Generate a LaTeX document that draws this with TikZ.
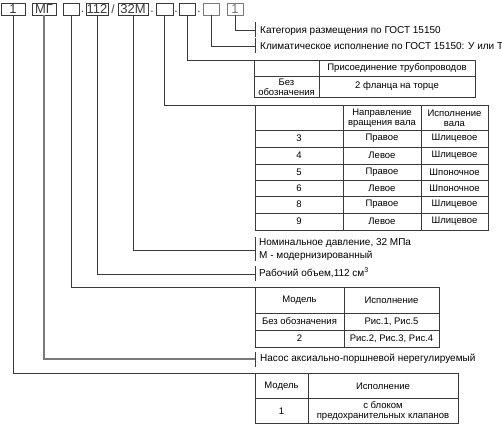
\documentclass[tikz,border=0pt]{standalone}
\usepackage{fontspec}
\setmainfont{Liberation Sans}
\definecolor{lc}{HTML}{3A3A3A}
\definecolor{lg}{HTML}{7A7A7A}
\begin{document}
\begin{tikzpicture}[x=1pt,y=-1pt,
  topbox/.style={draw=lc, line width=0.9pt, minimum height=12pt, inner sep=0pt, outer sep=0pt,
    font=\fontsize{13}{13}\selectfont, text=lc},
  greybox/.style={topbox, draw=lg, text=lg},
  sep/.style={font=\fontsize{12}{12}\selectfont, text=lc, inner sep=0pt},
  lead/.style={draw=lc, line width=0.7pt},
  frame/.style={draw=lc, line width=0.8pt, inner sep=0pt, outer sep=0pt, anchor=north west},
  grid/.style={draw=lc, line width=0.7pt},
  lbl/.style={anchor=west, inner sep=0pt, text=black, font=\fontsize{10}{12}\selectfont},
  cell/.style={inner sep=0pt, align=center, text=black, font=\fontsize{9.5}{10}\selectfont}
]
\useasboundingbox (0,0) rectangle (502,425);

% top code boxes
\node[topbox, minimum width=24pt] (b1) at (13,9) {1};
\node[topbox, minimum width=24pt] (b2) at (44,9) {МГ};
\node[topbox, minimum width=16pt] (b3) at (71,9) {};
\node[sep] (d1) at (82.5,12) {.};
\node[topbox, minimum width=22pt] (b4) at (97,9) {112};
\node[sep] (d2) at (113,9) {/};
\node[topbox, minimum width=30pt] (b5) at (133,9) {32М};
\node[sep] (d3) at (152,12) {.};
\node[topbox, minimum width=17pt] (b6) at (164.5,9) {};
\node[sep] (d4) at (176,12) {.};
\node[topbox, minimum width=16pt] (b7) at (187,9) {};
\node[sep] (d5) at (199,12) {.};
\node[greybox, minimum width=16pt] (b8) at (211,9) {};
\node[greybox, minimum width=16pt] (b9) at (235,9) {1};

% tick coordinates
\coordinate (t9) at (255,30);
\coordinate (t8) at (255,46);
\coordinate (t5) at (255,250);
\coordinate (t4) at (255,274);
\coordinate (t2) at (255,359);

% ticks
\draw[lead] (255,22) -- (255,37);
\draw[lead] (255,38) -- (255,53);
\draw[lead] (255,237) -- (255,261);
\draw[lead] (255,266) -- (255,281);
\draw[lead] (255,352) -- (255,367);

% labels
\node[lbl] (l9) at (260,31) {Категория размещения по ГОСТ 15150};
\node[lbl] (l8) at (260,46) {Климатическое исполнение по ГОСТ 15150: У или Т};
\node[lbl] (l5a) at (259,243) {Номинальное давление, 32 МПа};
\node[lbl] (l5b) at (259,256) {М - модернизированный};
\node[lbl] (l4) at (259,273) {Рабочий объем,112 см\textsuperscript{3}};
\node[lbl] (l2) at (260,359) {Насос аксиально-поршневой нерегулируемый};

% connection table
\node[frame, minimum width=221pt, minimum height=37pt] (tc) at (254,60) {};
\draw[grid] (319,60) -- (319,97);
\draw[grid] (254,76) -- (475,76);
\node[cell] (tc12) at (397,68) {Присоединение трубопроводов};
\node[cell] (tc21) at (286.5,87) {Без\\обозначения};
\node[cell] (tc22) at (397,86.5) {2 фланца на торце};

% shaft table
\node[frame, minimum width=233pt, minimum height=125pt] (ts) at (255,105) {};
\draw[grid] (343,105) -- (343,230);
\draw[grid] (421,105) -- (421,230);
\foreach \yy in {130,147,164,180,196,213} \draw[grid] (255,\yy) -- (488,\yy);
\node[cell] (ts12) at (382,118) {Направление\\вращения вала};
\node[cell] (ts13) at (454.5,118) {Исполнение\\вала};
\node[cell] (ts21) at (299,138.5) {3};
\node[cell] (ts22) at (382,138.5) {Правое};
\node[cell] (ts23) at (454.5,138.5) {Шлицевое};
\node[cell] (ts31) at (299,155.5) {4};
\node[cell] (ts32) at (382,155.5) {Левое};
\node[cell] (ts33) at (454.5,155.5) {Шлицевое};
\node[cell] (ts41) at (299,172) {5};
\node[cell] (ts42) at (382,172) {Правое};
\node[cell] (ts43) at (454.5,172) {Шпоночное};
\node[cell] (ts51) at (299,188) {6};
\node[cell] (ts52) at (382,188) {Левое};
\node[cell] (ts53) at (454.5,188) {Шпоночное};
\node[cell] (ts61) at (299,204.5) {8};
\node[cell] (ts62) at (382,204.5) {Правое};
\node[cell] (ts63) at (454.5,204.5) {Шлицевое};
\node[cell] (ts71) at (299,221.5) {9};
\node[cell] (ts72) at (382,221.5) {Левое};
\node[cell] (ts73) at (454.5,221.5) {Шлицевое};

% model table
\node[frame, minimum width=184pt, minimum height=60pt] (tm) at (255,287) {};
\draw[grid] (344,287) -- (344,347);
\draw[grid] (255,313) -- (439,313);
\draw[grid] (255,330) -- (439,330);
\node[cell] (tm11) at (299.5,300) {Модель};
\node[cell] (tm12) at (391.5,300) {Исполнение};
\node[cell] (tm21) at (299.5,321.5) {Без обозначения};
\node[cell] (tm22) at (391.5,321.5) {Рис.1, Рис.5};
\node[cell] (tm31) at (299.5,338.5) {2};
\node[cell] (tm32) at (391.5,338.5) {Рис.2, Рис.3, Рис.4};

% bottom table
\node[frame, minimum width=203pt, minimum height=50.5pt] (tb) at (255,373) {};
\draw[grid] (308,373) -- (308,423.5);
\draw[grid] (255,398) -- (458,398);
\node[cell] (tb11) at (281.5,386) {Модель};
\node[cell] (tb12) at (383,386) {Исполнение};
\node[cell] (tb21) at (281.5,411) {1};
\node[cell] (tb22) at (383,411) {с блоком\\предохранительных клапанов};

% leaders
\draw[lead] (b1.south) |- (tb.north west);
\draw[draw=lg, line width=1.1pt] (b2.south) |- (t2);
\draw[lead] (b3.south) |- (tm.north west);
\draw[lead] (b4.south) |- (t4);
\draw[lead] (b5.south) |- (t5);
\draw[lead] (b6.south) |- (ts.north west);
\draw[lead] (b7.south) |- (tc.north west);
\draw[lead] (b8.south) |- (t8);
\draw[lead] (b9.south) |- (t9);
\end{tikzpicture}
\end{document}
